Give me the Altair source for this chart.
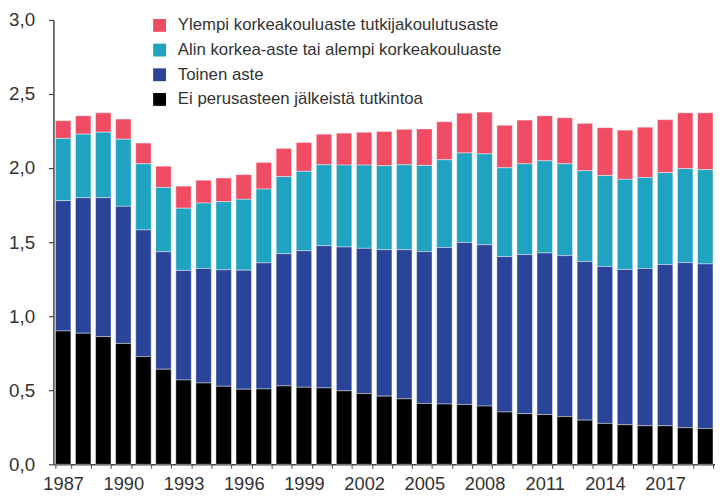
import altair as alt
import pandas as pd

years = list(range(1987, 2020))

# segment values (stacked from bottom)
ei_perus = [0.900, 0.885, 0.862, 0.816, 0.727, 0.642, 0.569, 0.549, 0.527, 0.507,
            0.509, 0.529, 0.520, 0.516, 0.496, 0.478, 0.460, 0.442, 0.411, 0.407,
            0.404, 0.393, 0.353, 0.342, 0.336, 0.322, 0.298, 0.276, 0.267, 0.260,
            0.260, 0.247, 0.242]
toinen = [0.880, 0.915, 0.938, 0.926, 0.855, 0.793, 0.740, 0.773, 0.786, 0.804,
          0.851, 0.893, 0.922, 0.960, 0.971, 0.980, 0.989, 1.007, 1.025, 1.057,
          1.094, 1.089, 1.049, 1.074, 1.091, 1.087, 1.071, 1.060, 1.049, 1.062,
          1.089, 1.115, 1.111]
alin = [0.420, 0.429, 0.442, 0.453, 0.447, 0.434, 0.420, 0.442, 0.460, 0.478,
        0.498, 0.520, 0.536, 0.546, 0.553, 0.562, 0.567, 0.573, 0.582, 0.592,
        0.604, 0.614, 0.600, 0.613, 0.622, 0.620, 0.613, 0.613, 0.608, 0.614,
        0.620, 0.634, 0.636]
ylempi = [0.120, 0.124, 0.131, 0.136, 0.140, 0.144, 0.149, 0.154, 0.160, 0.167,
          0.180, 0.191, 0.195, 0.207, 0.216, 0.222, 0.231, 0.240, 0.246, 0.257,
          0.269, 0.282, 0.287, 0.295, 0.304, 0.311, 0.320, 0.324, 0.332, 0.340,
          0.358, 0.377, 0.384]

series_names = [
    "Ylempi korkeakouluaste tutkijakoulutusaste",
    "Alin korkea-aste tai alempi korkeakouluaste",
    "Toinen aste",
    "Ei perusasteen jälkeistä tutkintoa",
]
series_colors = ["#F04D64", "#1FA3C0", "#2A449A", "#000000"]
series_values = [ylempi, alin, toinen, ei_perus]
stack_order = [3, 2, 1, 0]

rows = []
for name, vals, o in zip(series_names, series_values, stack_order):
    for y, v in zip(years, vals):
        rows.append({"vuosi": y, "sarja": name, "arvo": v, "jarj": o})
df = pd.DataFrame(rows)

font = "Liberation Sans"

chart = alt.Chart(df).mark_bar(
    stroke="#ffffff", strokeWidth=0.6, strokeOpacity=0.7
).encode(
    x=alt.X("vuosi:O", title=None,
            scale=alt.Scale(paddingInner=0.23, paddingOuter=0.1),
            axis=alt.Axis(
                labelAngle=0,
                labelExpr="(toNumber(datum.value) - 1987) % 3 == 0 ? datum.value : ''",
                tickBand="extent", tickSize=4, labelPadding=7,
                labelFontSize=18.5, labelFont=font, labelColor="#333333",
                domainColor="#444444", domainWidth=1.5,
                tickColor="#444444", tickWidth=1)),
    y=alt.Y("arvo:Q", title=None, stack="zero",
            scale=alt.Scale(domain=[0, 3]),
            axis=alt.Axis(values=[0, 0.5, 1, 1.5, 2, 2.5, 3],
                          labelExpr="replace(format(datum.value, '.1f'), '.', ',')",
                          grid=False, tickSize=5, labelPadding=14,
                          minExtent=46, maxExtent=46,
                          labelFontSize=19, labelFont=font, labelColor="#333333",
                          domainColor="#444444", domainWidth=1.5,
                          tickColor="#444444", tickWidth=1.2)),
    color=alt.Color("sarja:N",
                    scale=alt.Scale(domain=series_names, range=series_colors),
                    legend=alt.Legend(title=None, orient="none", legendX=99, legendY=-3,
                                      symbolType="square", symbolSize=169,
                                      symbolStrokeWidth=0, labelFontSize=17,
                                      labelFont=font, labelColor="#333333",
                                      labelOffset=10, rowPadding=7, padding=0,
                                      labelLimit=500)),
    order=alt.Order("jarj:Q", sort="ascending"),
).properties(
    width=670, height=450, padding={"left": 0, "top": 0, "right": 0, "bottom": 0}
).configure_view(stroke=None)

chart.save("out.html", embed_options={"renderer": "svg", "actions": False})
